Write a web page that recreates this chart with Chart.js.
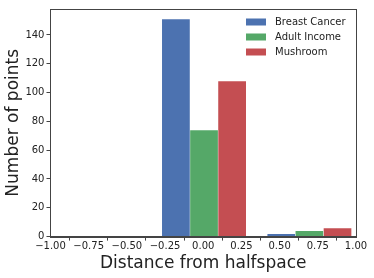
<!DOCTYPE html>
<html>
<head>
<meta charset="utf-8">
<script src="https://cdn.jsdelivr.net/npm/chart.js@4.4.1/dist/chart.umd.min.js"></script>
<style>
  html, body { margin: 0; padding: 0; background: #fff; }
  #wrap { width: 374px; height: 278px; }
</style>
</head>
<body>
<div id="wrap"><canvas id="myChart" width="374" height="278"></canvas></div>
<script>
// histogram bin edges (distance from halfspace)
const binEdges = [-0.34, 0.35, 1.04];
const seriesNames = ["Breast Cancer", "Adult Income", "Mushroom"];
const breastCancer = [151, 2];
const adultIncome = [74, 4];
const mushroom = [108, 6];

const colors = ["#4C72B0", "#55A868", "#C44E52"];
const counts = [breastCancer, adultIncome, mushroom];

// matplotlib style side-by-side hist: bars fill 80% of each bin
function barCenters(k, n) {
  let out = [];
  for (let i = 0; i < binEdges.length - 1; i++) {
    let w = binEdges[i + 1] - binEdges[i];
    let bw = 0.8 * w / n;
    out.push(binEdges[i] + 0.1 * w + (k + 0.5) * bw);
  }
  return out;
}

const datasets = counts.map((vals, k) => {
  let xs = barCenters(k, counts.length);
  return {
    label: seriesNames[k],
    data: vals.map((v, i) => ({ x: xs[i], y: v })),
    backgroundColor: colors[k],
    borderColor: "rgba(255,255,255,0.6)",
    borderWidth: 0.5,
    grouped: false,
    barPercentage: 1,
    categoryPercentage: 1,
  };
});

const frameBox = {
  id: "frameBox",
  afterDraw(chart) {
    const a = chart.chartArea;
    const ctx = chart.ctx;
    ctx.save();
    ctx.strokeStyle = "#444";
    ctx.lineWidth = 1;
    ctx.strokeRect(Math.round(a.left) + 0.5, Math.round(a.top) + 0.5,
      Math.round(a.right - a.left), Math.round(a.bottom - a.top));
    ctx.restore();
  },
};

const innerLegend = {
  id: "innerLegend",
  afterDatasetsDraw(chart) {
    const a = chart.chartArea;
    const ctx = chart.ctx;
    ctx.save();
    ctx.font = "10px 'DejaVu Sans'";
    ctx.textBaseline = "middle";
    chart.data.datasets.forEach((ds, i) => {
      let y = a.top + 13 + i * 15;
      ctx.fillStyle = ds.backgroundColor;
      ctx.fillRect(a.right - 110, y - 3.5, 20, 7);
      ctx.fillStyle = "#222";
      ctx.fillText(ds.label, a.right - 81, y + 0.5);
    });
    ctx.restore();
  },
};

Chart.defaults.font.family = "'DejaVu Sans'";
Chart.defaults.color = "#222";

var ctx = document.getElementById("myChart").getContext("2d");
var myChart = new Chart(ctx, {
  type: "bar",
  data: { datasets: datasets },
  options: {
    responsive: false,
    animation: false,
    layout: { padding: { left: 2, right: 18, top: 9, bottom: 4 } },
    plugins: { legend: { display: false }, tooltip: { enabled: false } },
    scales: {
      x: {
        type: "linear",
        min: -1,
        max: 1,
        offset: false,
        grid: { drawOnChartArea: false, tickLength: 4, color: "#444" },
        border: { color: "#444" },
        ticks: {
          stepSize: 0.25,
          padding: 0,
          maxRotation: 0,
          font: { size: 10, lineHeight: 1.1 },
          callback: (v) => v.toFixed(2).replace("-", "\u2212"),
        },
        title: {
          display: true,
          text: "Distance from halfspace",
          font: { size: 17 },
          padding: { top: 2, bottom: 0 },
        },
      },
      y: {
        min: 0,
        max: 158,
        grid: { drawOnChartArea: false, tickLength: 4, color: "#444" },
        border: { color: "#444" },
        ticks: { stepSize: 20, padding: 2, includeBounds: false, font: { size: 10 } },
        title: {
          display: true,
          text: "Number of points",
          font: { size: 17 },
          padding: { top: 1, bottom: 0 },
        },
      },
    },
  },
  plugins: [frameBox, innerLegend],
});
</script>
</body>
</html>
